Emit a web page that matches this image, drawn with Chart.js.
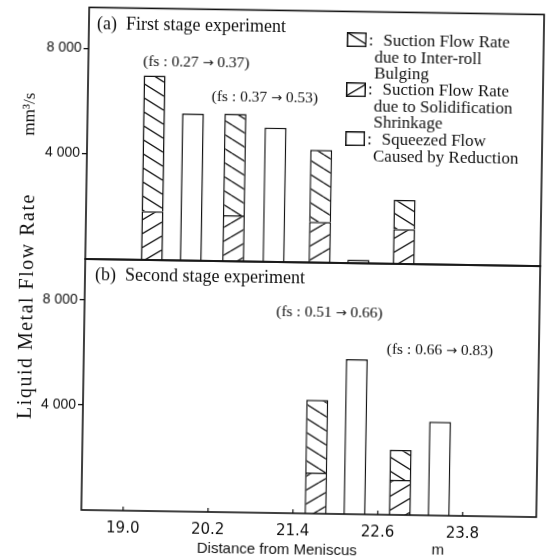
<!DOCTYPE html>
<html>
<head>
<meta charset="utf-8">
<script src="https://cdn.jsdelivr.net/npm/chart.js@4"></script>
<style>
  html, body { margin: 0; padding: 0; background: #fff; }
  #fig { position: relative; width: 555px; height: 557px; transform: rotate(0.9deg); transform-origin: 277px 278px;
         font-family: "Liberation Serif", serif; color: #111; }
  #fig canvas.plot { position: absolute; left: 0; }
  #fig canvas.sw { position: absolute; left: 343px; }
  .t { position: absolute; white-space: pre; line-height: 1; }
  .c { position: absolute; white-space: pre; line-height: 1; transform: translate(-50%, -50%); }
  .n { font-size: 15.5px; }
  .ar { font-family: "DejaVu Sans", sans-serif; font-size: 13px; }
  .lg { position: absolute; font-size: 17px; line-height: 16.5px; white-space: pre; }
</style>
</head>
<body>
<div id="fig">
  <canvas class="plot" id="chartA" width="555" height="280" style="top:0"></canvas>
  <canvas class="plot" id="chartB" width="555" height="313" style="top:244px"></canvas>

  <div class="t" style="left:93px;top:17px;font-size:18px">(a)  First stage experiment</div>
  <div class="t" style="left:95px;top:268px;font-size:18px">(b)  Second stage experiment</div>

  <div class="c n" style="left:193px;top:63px">(fs : 0.27 <span class="ar">→</span> 0.37)</div>
  <div class="c n" style="left:262px;top:97px">(fs : 0.37 <span class="ar">→</span> 0.53)</div>
  <div class="c n" style="left:330px;top:311px">(fs : 0.51 <span class="ar">→</span> 0.66)</div>
  <div class="c n" style="left:441px;top:347px">(fs : 0.66 <span class="ar">→</span> 0.83)</div>

  <canvas class="sw" id="sw1" width="20" height="15" style="top:31px"></canvas>
  <canvas class="sw" id="sw2" width="20" height="15" style="top:81px"></canvas>
  <canvas class="sw" id="sw3" width="20" height="15" style="top:130px"></canvas>
  <div class="lg" style="left:365px;top:31px">:</div>
  <div class="lg" style="left:371px;top:31px">  Suction Flow Rate
due to Inter-roll
Bulging</div>
  <div class="lg" style="left:365px;top:80px">:</div>
  <div class="lg" style="left:371px;top:80px">  Suction Flow Rate
due to Solidification
Shrinkage</div>
  <div class="lg" style="left:365px;top:130px">:</div>
  <div class="lg" style="left:371px;top:130px">  Squeezed Flow
Caused by Reduction</div>

  <div class="c" style="left:26px;top:310px;font-size:20px;letter-spacing:1.5px;transform:translate(-50%,-50%) rotate(-90deg)">Liquid Metal Flow Rate</div>
  <div class="c" style="left:26px;top:118px;font-size:17px;transform:translate(-50%,-50%) rotate(-90deg)">mm³/s</div>
  <div class="c" style="left:281px;top:548px;font-family:'Liberation Sans',sans-serif;font-size:15px">Distance from Meniscus</div>
  <div class="c" style="left:442px;top:546px;font-family:'Liberation Sans',sans-serif;font-size:15px">m</div>
</div>

<script>
// axis ticks (m, mm3/s)
const xTicks = [19.0, 20.2, 21.4, 22.6, 23.8];
const yTicks = [4000, 8000];

// (a) first stage: hatched bars = shrinkage (bottom) + bulging (top)
const aHatchX = [19.35, 20.5, 21.72, 22.91];
const aShrink = [1850, 1750, 1550, 1320];
const aBulge = [5150, 3850, 2730, 1110];
const aOpenX = [19.9, 21.07, 22.27];
const aSqueeze = [5580, 5100, 130];

// (b) second stage
const bHatchX = [21.72, 22.91];
const bShrink = [1560, 1330];
const bBulge = [2770, 1140];
const bOpenX = [22.27, 23.46];
const bSqueeze = [5900, 3570];

const X_MIN = 18.41, X_MAX = 24.84, Y_MAX = 9550;
const INK = '#111';

function hatch(dir, w = 23, h = 14) {
  const c = document.createElement('canvas');
  c.width = w; c.height = h;
  const g = c.getContext('2d');
  g.fillStyle = '#fff';
  g.fillRect(0, 0, w, h);
  g.strokeStyle = INK;
  g.lineWidth = 1.3;
  g.beginPath();
  [-h, 0, h].forEach(o => {
    if (dir === 'back') { g.moveTo(0, o); g.lineTo(w, h + o); }
    else { g.moveTo(0, h + o); g.lineTo(w, o); }
  });
  g.stroke();
  return c;
}
const backTile = hatch('back');
const fwdTile = hatch('fwd');

function pts(xs, ys) { return xs.map((x, i) => ({ x, y: ys[i] })); }
function fmt(v) { return String(v).replace(/\B(?=(\d{3})+(?!\d))/g, ' '); }

const frame = {
  id: 'frame',
  afterDatasetsDraw(chart, args, opts) {
    const { ctx, chartArea: a } = chart;
    ctx.save();
    ctx.strokeStyle = INK;
    ctx.lineWidth = 1.6;
    ctx.strokeRect(a.left, a.top, a.right - a.left, a.bottom - a.top);
    if (opts.xMarks) {
      const sx = chart.scales.x;
      ctx.lineWidth = 1.2;
      ctx.beginPath();
      sx.ticks.forEach(t => {
        const p = sx.getPixelForValue(t.value);
        ctx.moveTo(p, a.bottom);
        ctx.lineTo(p, a.bottom - 4);
      });
      ctx.stroke();
    }
    ctx.restore();
  }
};

function panel(id, hx, shrink, bulge, ox, squeeze, showX, pad) {
  const ctx = document.getElementById(id).getContext('2d');
  return new Chart(ctx, {
    type: 'bar',
    data: {
      datasets: [
        { label: 'Suction Flow Rate due to Solidification Shrinkage', data: pts(hx, shrink), backgroundColor: ctx.createPattern(fwdTile, 'repeat') },
        { label: 'Suction Flow Rate due to Inter-roll Bulging', data: pts(hx, bulge), backgroundColor: ctx.createPattern(backTile, 'repeat') },
        { label: 'Squeezed Flow Caused by Reduction', data: pts(ox, squeeze), backgroundColor: '#fff' },
      ]
    },
    options: {
      responsive: false,
      animation: false,
      devicePixelRatio: 1,
      layout: { padding: pad },
      datasets: { bar: { grouped: false, maxBarThickness: 22, borderColor: INK, borderWidth: 1.5 } },
      plugins: { legend: { display: false }, tooltip: { enabled: false }, frame: { xMarks: showX } },
      scales: {
        x: {
          type: 'linear', min: X_MIN, max: X_MAX, offset: false, display: showX,
          grid: { display: false, drawTicks: false, offset: false }, border: { display: false },
          afterBuildTicks: s => { s.ticks = xTicks.map(v => ({ value: v })); },
          afterFit: s => { if (s.options.display) s.height = 44; },
          ticks: { padding: 9, color: INK, autoSkip: false, maxRotation: 0,
                   font: { family: 'DejaVu Sans', size: 15 }, callback: v => Number(v).toFixed(1) }
        },
        y: {
          stacked: true, min: 0, max: Y_MAX,
          grid: { drawOnChartArea: false, tickLength: 5, color: INK, lineWidth: 1.3 }, border: { display: false },
          afterBuildTicks: s => { s.ticks = yTicks.map(v => ({ value: v })); },
          afterFit: s => { s.width = 85; },
          ticks: { padding: 2, color: INK, font: { family: 'Liberation Sans', size: 14 }, callback: v => fmt(v) }
        }
      }
    },
    plugins: [frame]
  });
}

// canvases overlap; paddings put both plot areas on the shared line at y = 262
panel('chartA', aHatchX, aShrink, aBulge, aOpenX, aSqueeze, false, { top: 10, right: 15, bottom: 18, left: 0 });
panel('chartB', bHatchX, bShrink, bBulge, bOpenX, bSqueeze, true, { top: 18, right: 15, bottom: 0, left: 0 });

// legend swatches
[['sw1', backTile], ['sw2', fwdTile], ['sw3', null]].forEach(([id, tile]) => {
  const g = document.getElementById(id).getContext('2d');
  g.fillStyle = tile ? g.createPattern(tile, 'repeat') : '#fff';
  g.fillRect(0, 0, 20, 15);
  g.strokeStyle = INK;
  g.lineWidth = 1.5;
  g.strokeRect(0.75, 0.75, 18.5, 13.5);
});
</script>
</body>
</html>
